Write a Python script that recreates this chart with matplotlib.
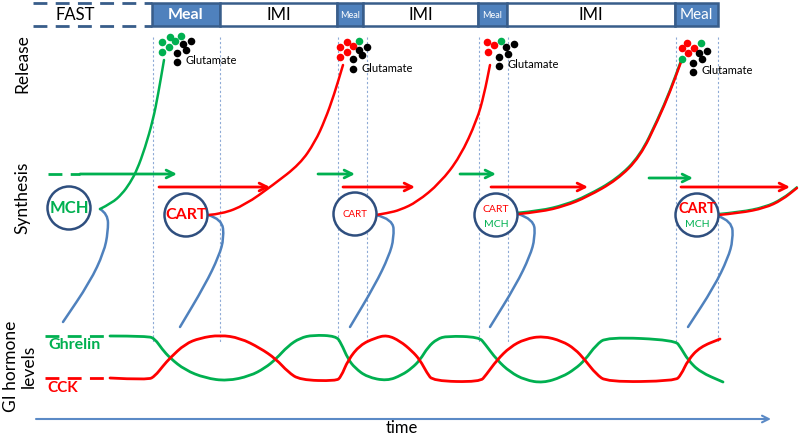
import numpy as np
import matplotlib.pyplot as plt
from matplotlib.path import Path
from matplotlib.patches import PathPatch, Circle, Rectangle

plt.rcParams['font.family'] = ['Lato', 'DejaVu Sans']

GREEN = '#00b050'
RED = '#ff0000'
BLUE = '#4f81bd'
DARK = '#385d8a'

# BEGIN: DATA ################################################################
# top bar (pixel positions of the meal / inter-meal boundaries)
bar_edges = [152, 220, 337, 363, 478, 507, 675, 718]
bar_labels = ['Meal', 'IMI', 'Meal', 'IMI', 'Meal', 'IMI', 'Meal']
bar_meal = [True, False, True, False, True, False, True]
bar_fsize = [11.5, 12, 6.5, 12, 6.5, 12, 11]
bar_bold = [True, False, False, False, False, False, False]

# meal start/end markers
marker_x = [153, 220, 338, 367, 479, 508, 676, 718]

# neurons
cell_x = [69, 186, 355, 496, 697]
cell_y = [208, 215, 214, 215, 215]
cell_top = ['MCH', 'CART', 'CART', 'CART', 'CART']
cell_top_col = [GREEN, RED, RED, RED, RED]
cell_top_size = [12, 11.5, 7, 7.5, 10.5]
cell_top_bold = [True, True, False, False, True]
cell_bot = ['', '', '', 'MCH', 'MCH']

# release curves
release_green = [(100, 209), (112, 203), (122, 194), (130, 183), (137, 170),
                 (145, 148), (153, 120), (158, 95), (164, 60)]
release_red2 = [(208, 215), (222, 214), (245, 205), (273, 185), (300, 164),
                (315, 142), (325, 120), (334, 95), (343, 65)]
release_red3 = [(376, 215), (388, 213), (400, 210), (417, 202), (440, 183),
                (460, 157), (477, 120), (484, 95), (490, 65)]
release_4 = [(518, 214), (540, 212), (565, 206), (587, 197), (617, 180),
             (640, 157), (658, 120), (670, 92), (681, 62)]
release_5 = [(718, 215), (740, 213), (765, 208), (782, 200), (797, 188)]

# axon hooks
hooks = [
    [(100, 209), (108, 214), (108, 232), (104, 252), (90, 282), (63, 322)],
    [(208, 215), (222, 219), (224, 238), (219, 256), (205, 285), (180, 327)],
    [(376, 215), (393, 219), (394, 238), (389, 256), (375, 285), (350, 327)],
    [(518, 214), (534, 219), (535, 238), (530, 256), (516, 285), (490, 327)],
    [(718, 216), (732, 221), (733, 240), (728, 258), (714, 287), (688, 327)],
]

# synthesis arrows (x0, x1, y)
syn_green = [(80, 177, 174), (318, 355, 174), (460, 496, 174), (649, 693, 178)]
syn_red = [(159, 270, 187), (343, 415, 187), (491, 588, 187), (681, 790, 187)]

# glutamate vesicles
ves_green = [(162, 42), (170, 37), (175, 41), (181, 36), (162, 52), (169, 47),
             (359, 41), (501, 41), (701, 43), (682, 59)]
ves_red = [(340, 47), (347, 42), (353, 46), (347, 52), (340, 57),
           (487, 42), (494, 45), (488, 52),
           (682, 48), (687, 43), (694, 48), (688, 53)]
ves_black = [(183, 44), (191, 41), (186, 50), (177, 53), (177, 62),
             (359, 50), (367, 47), (362, 55), (353, 59), (353, 69),
             (506, 47), (514, 44), (508, 54), (499, 57), (499, 66),
             (699, 53), (707, 51), (702, 59), (693, 63), (693, 72)]
glu_xy = [(181, 62), (357, 69), (503, 66), (697, 72)]

# GI hormone levels
ghrelin = [(110, 336), (148, 336), (155, 339), (162, 349), (170, 358),
           (185, 370), (205, 378), (227, 381), (250, 376), (265, 368),
           (276, 359), (288, 346), (300, 338), (313, 335), (336, 336),
           (341, 343), (348, 359), (355, 368), (367, 377), (387, 381),
           (402, 375), (412, 368), (420, 360), (428, 347), (437, 339),
           (447, 336), (479, 337), (485, 344), (497, 360), (510, 372),
           (525, 380), (543, 383), (562, 377), (575, 369), (585, 360),
           (596, 345), (607, 337), (675, 340), (681, 348), (688, 360),
           (700, 372), (723, 382)]
cck = [(110, 378), (148, 380), (155, 376), (163, 366), (170, 358),
       (185, 344), (200, 338), (220, 335), (240, 338), (260, 348),
       (276, 359), (288, 372), (300, 380), (336, 381), (341, 377),
       (348, 360), (360, 345), (375, 338), (387, 335), (400, 341),
       (412, 351), (420, 360), (427, 373), (433, 381), (480, 382),
       (486, 375), (497, 360), (510, 347), (525, 339), (543, 336),
       (562, 341), (575, 349), (585, 360), (596, 374), (607, 382),
       (675, 381), (681, 375), (688, 360), (700, 347), (720, 339)]
# END:   DATA ################################################################


def smooth(ax, pts, color, lw=1.8, zorder=3):
    # quadratic bezier through midpoints, drawn by matplotlib
    verts = [pts[0]]
    codes = [Path.MOVETO]
    for i in range(1, len(pts) - 1):
        mid = ((pts[i][0] + pts[i + 1][0]) / 2, (pts[i][1] + pts[i + 1][1]) / 2)
        verts += [pts[i], mid]
        codes += [Path.CURVE3, Path.CURVE3]
    verts.append(pts[-1])
    codes.append(Path.LINETO)
    ax.add_patch(PathPatch(Path(verts, codes), fill=False, edgecolor=color,
                           lw=lw, zorder=zorder, capstyle='round'))


fig = plt.figure(figsize=(8, 4.36), dpi=100)
ax = fig.add_axes([0, 0, 1, 1])
ax.set_xlim(0, 800)
ax.set_ylim(436, 0)
ax.axis('off')

# top bar
ax.plot([33, 152], [3, 3], color=DARK, lw=2, ls=(0, (5, 3)))
ax.plot([33, 152], [26, 26], color=DARK, lw=2, ls=(0, (5, 3)))
ax.text(75, 15, 'FAST', ha='center', va='center', fontsize=12)
for i, lab in enumerate(bar_labels):
    x0, x1 = bar_edges[i], bar_edges[i + 1]
    ax.add_patch(Rectangle((x0, 3), x1 - x0, 23,
                           facecolor=BLUE if bar_meal[i] else 'white',
                           edgecolor=DARK, lw=1.8, zorder=2))
    ax.text((x0 + x1) / 2, 15, lab, ha='center', va='center',
            fontsize=bar_fsize[i], color='white' if bar_meal[i] else 'black',
            fontweight='bold' if bar_bold[i] else 'normal', zorder=3)

# meal markers
for x in marker_x:
    ax.plot([x, x], [37, 343], color='#8eaad6', lw=0.8, ls=(0, (2, 2)), zorder=1)

# row labels
ax.text(22, 64, 'Release', rotation=90, ha='center', va='center', fontsize=12.5)
ax.text(22, 198, 'Synthesis', rotation=90, ha='center', va='center', fontsize=12.5)
ax.text(20, 366, 'GI hormone\nlevels', rotation=90, ha='center', va='center',
        fontsize=12.5, multialignment='center', linespacing=1.15)

# release curves
smooth(ax, release_green, GREEN)
smooth(ax, release_red2, RED)
smooth(ax, release_red3, RED)
smooth(ax, [(x, y - 1.2) for x, y in release_4], GREEN)
smooth(ax, release_4, RED)
smooth(ax, [(x, y - 1.5) for x, y in release_5], GREEN, lw=0.9)
smooth(ax, release_5, RED)

for h in hooks:
    smooth(ax, h, BLUE, lw=1.8, zorder=2)

# synthesis arrows
ax.plot([48, 80], [174, 174], color=GREEN, lw=2, ls=(0, (5, 3)))
for x0, x1, y in syn_green:
    ax.annotate('', xy=(x1, y), xytext=(x0, y),
                arrowprops=dict(arrowstyle='->', color=GREEN, lw=2,
                                mutation_scale=14, shrinkA=0, shrinkB=0))
for x0, x1, y in syn_red:
    ax.annotate('', xy=(x1, y), xytext=(x0, y),
                arrowprops=dict(arrowstyle='->', color=RED, lw=2,
                                mutation_scale=14, shrinkA=0, shrinkB=0))

# neurons
for i in range(len(cell_x)):
    ax.add_patch(Circle((cell_x[i], cell_y[i]), 21.5, facecolor='white',
                        edgecolor='#2f4f7f', lw=1.8, zorder=4))
    dy = -6 if cell_bot[i] else 0
    ax.text(cell_x[i], cell_y[i] + dy, cell_top[i], ha='center', va='center',
            color=cell_top_col[i], fontsize=cell_top_size[i],
            fontweight='bold' if cell_top_bold[i] else 'normal', zorder=5)
    if cell_bot[i]:
        ax.text(cell_x[i], cell_y[i] + 9, cell_bot[i], ha='center',
                va='center', color=GREEN, fontsize=7.5, zorder=5)

# glutamate vesicles
for pts, col in [(ves_green, GREEN), (ves_red, RED), (ves_black, 'black')]:
    ax.scatter([p[0] for p in pts], [p[1] for p in pts], s=30, color=col,
               zorder=5, linewidths=0)
for x, y in glu_xy:
    ax.text(x + 5, y - 1, 'Glutamate', ha='left', va='center', fontsize=8)

# GI hormone levels
ax.plot([45, 110], [336, 336], color=GREEN, lw=2, ls=(0, (5, 3)))
ax.plot([45, 110], [378, 378], color=RED, lw=2, ls=(0, (5, 3)))
smooth(ax, ghrelin, GREEN, lw=2)
smooth(ax, cck, RED, lw=2)
ax.text(48, 345, 'Ghrelin', color=GREEN, fontsize=11.5, fontweight='bold',
        va='center')
ax.text(47, 388, 'CCK', color=RED, fontsize=11, fontweight='bold', va='center')

# time axis
ax.annotate('', xy=(771, 419), xytext=(36, 419),
            arrowprops=dict(arrowstyle='->', color='#5b8ac6', lw=1.5,
                            mutation_scale=12, shrinkA=0, shrinkB=0))
ax.text(402, 428, 'time', ha='center', va='center', fontsize=12)

fig.savefig('out.png', dpi=100)
